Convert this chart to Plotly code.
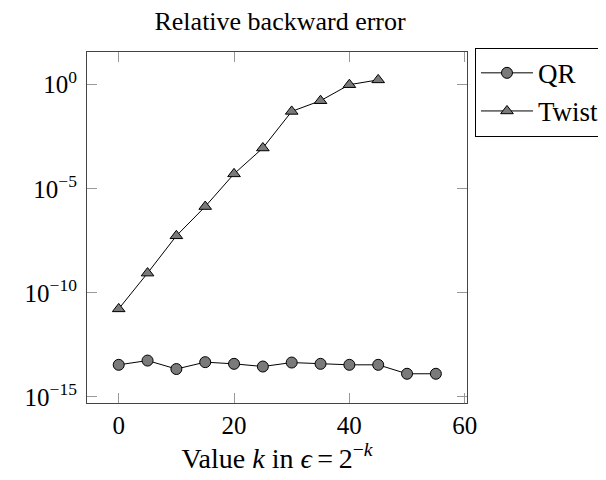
import plotly.graph_objects as go

k_qr = [0, 5, 10, 15, 20, 25, 30, 35, 40, 45, 50, 55]
err_qr = [3.5e-14, 5.6e-14, 2.2e-14, 4.7e-14, 3.9e-14, 2.9e-14, 4.5e-14, 3.9e-14, 3.5e-14, 3.5e-14, 1.3e-14, 1.3e-14]
k_twist = [0, 5, 10, 15, 20, 25, 30, 35, 40, 45]
err_twist = [1.7e-11, 8.9e-10, 5.5e-8, 1.4e-6, 5.2e-5, 9.1e-4, 5.2e-2, 0.17, 1.0, 1.7]

x_ticks = [0, 20, 40, 60]
y_tickvals = [1, 1e-5, 1e-10, 1e-15]
y_ticktext = ["10<sup>0</sup>", "10<sup>−5</sup>", "10<sup>−10</sup>", "10<sup>−15</sup>"]

FONT = "Liberation Serif"
fig = go.Figure()
fig.add_trace(go.Scatter(
    x=k_qr, y=err_qr, mode="lines+markers", name="QR",
    line=dict(color="black", width=1),
    marker=dict(symbol="circle", size=11, color="#7a7a7a", line=dict(color="black", width=1)),
))
fig.add_trace(go.Scatter(
    x=k_twist, y=err_twist, mode="lines+markers", name="Twist",
    line=dict(color="black", width=1),
    marker=dict(symbol="triangle-up", size=11, color="#7a7a7a", line=dict(color="black", width=1)),
))

axis_common = dict(
    showline=True, linecolor="#444444", linewidth=1.2, mirror="allticks",
    ticks="inside", ticklen=10, tickcolor="#999999", tickwidth=1,
    showgrid=False, zeroline=False,
    tickfont=dict(family=FONT, size=25, color="black"),
)

# page body has an 8px margin, so the figure is shrunk by 8px and margins shifted
fig.update_layout(
    width=598, height=472,
    margin=dict(l=79, r=139, t=44, b=77, autoexpand=False),
    paper_bgcolor="white", plot_bgcolor="white",
    title=dict(text="Relative backward error", x=0.455, xanchor="center", y=0.972, yanchor="middle",
               font=dict(family=FONT, size=26, color="black")),
    xaxis=dict(range=[-5.5, 60.4], tickvals=x_ticks,
               title=dict(text="Value <i>k</i> in <i>ϵ</i>\u2009=\u20092<sup>−<i>k</i></sup>", standoff=0,
                          font=dict(family=FONT, size=28, color="black")),
               **axis_common),
    yaxis=dict(type="log", range=[-15.29, 1.57], tickvals=y_tickvals, ticktext=y_ticktext,
               ticklabelstandoff=4, **axis_common),
    legend=dict(x=1.021, xanchor="left", y=1.012, yanchor="top",
                bordercolor="black", borderwidth=1, bgcolor="white",
                font=dict(family=FONT, size=27, color="black"),
                itemwidth=52, tracegroupgap=0),
    showlegend=True,
)

fig.write_html("out.html")
